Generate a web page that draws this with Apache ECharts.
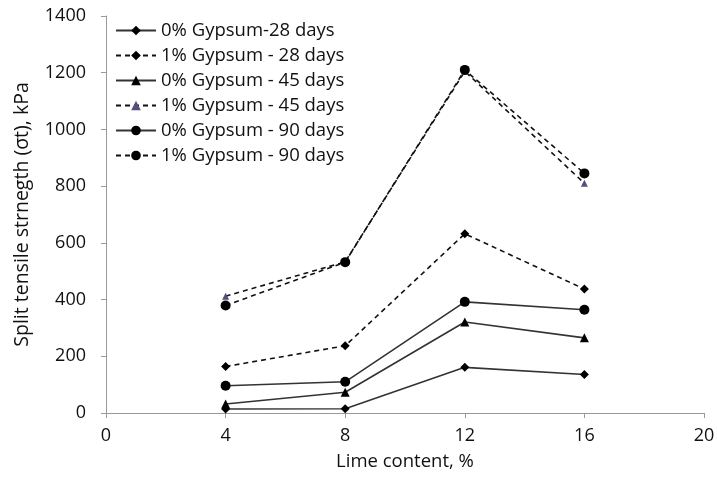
<!DOCTYPE html>
<html><head><meta charset="utf-8">
<script src="https://cdn.jsdelivr.net/npm/echarts@6/dist/echarts.min.js"></script>
<style>html,body{margin:0;padding:0;background:#fff}#c{width:717px;height:480px}</style>
</head><body><div id="c"></div>
<script>
var lime = [4, 8, 12, 16];
var g0d28 = [14, 15, 161, 136];
var g1d28 = [164, 237, 632, 437];
var g0d45 = [32, 73, 321, 265];
var g1d45 = [412, 533, 1205, 810];
var g0d90 = [96, 110, 392, 364];
var g1d90 = [379, 532, 1210, 845];
var seriesNames = ['0% Gypsum-28 days','1% Gypsum - 28 days','0% Gypsum - 45 days','1% Gypsum - 45 days','0% Gypsum - 90 days','1% Gypsum - 90 days'];
var yTicks = [0, 1400, 200];
var xTicks = [0, 20, 4];

function pairs(v){ return lime.map(function(x,i){ return [x, v[i]]; }); }
function mk(name, data, dashed, symbol, size, mcolor){
  return {
    name: name, type: 'line', data: pairs(data),
    symbol: symbol, symbolSize: size,
    lineStyle: {color: dashed ? '#111' : '#333', width: 1.6, type: dashed ? [5,4] : 'solid'},
    itemStyle: {color: mcolor || '#000'},
    emphasis: {disabled: true}
  };
}
var chart = echarts.init(document.getElementById('c'));
chart.setOption({
  animation: false,
  textStyle: {fontFamily: 'Open Sans'},
  grid: {left: 106, right: 13, top: 16, bottom: 67, containLabel: false, outerBoundsMode: 'none'},
  legend: {
    orient: 'vertical', left: 110, top: 15, itemWidth: 40, itemHeight: 12, itemGap: 4,
    textStyle: {fontSize: 18.5, lineHeight: 21, color: '#111', fontFamily: 'Open Sans'},
    data: seriesNames
  },
  xAxis: {
    type: 'value', min: xTicks[0], max: xTicks[1], interval: xTicks[2],
    name: 'Lime content, %', nameLocation: 'middle', nameGap: 39,
    nameTextStyle: {fontSize: 18.5, color: '#111'},
    axisLine: {lineStyle: {color: '#999'}},
    axisTick: {show: true, length: 5, lineStyle: {color: '#999'}},
    axisLabel: {fontSize: 18, color: '#111', margin: 14},
    splitLine: {show: false}
  },
  yAxis: {
    type: 'value', min: yTicks[0], max: yTicks[1], interval: yTicks[2],
    name: 'Split tensile strnegth (\u03c3t), kPa', nameLocation: 'middle', nameGap: 74,
    nameTextStyle: {fontSize: 19.5, color: '#111'},
    axisLine: {show: true, lineStyle: {color: '#999'}},
    axisTick: {show: true, length: 5, lineStyle: {color: '#999'}},
    axisLabel: {fontSize: 18, color: '#111', margin: 20, formatter: function(v){ return String(v); }},
    splitLine: {show: false}
  },
  series: [
    mk(seriesNames[0], g0d28, false, 'diamond', 9),
    mk(seriesNames[1], g1d28, true, 'diamond', 9),
    mk(seriesNames[2], g0d45, false, 'triangle', 9),
    mk(seriesNames[3], g1d45, true, 'triangle', 7, '#55507a'),
    mk(seriesNames[4], g0d90, false, 'circle', 10),
    mk(seriesNames[5], g1d90, true, 'circle', 10)
  ]
});
</script></body></html>
